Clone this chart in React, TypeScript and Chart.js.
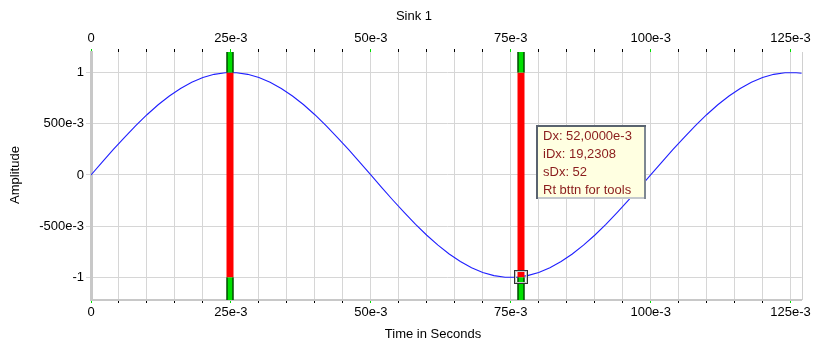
import React, { useEffect, useRef } from "react";
import { Chart, registerables } from "chart.js";

Chart.register(...registerables);

// ---- data ----
const timeMs = [
  0, 2, 4, 6, 8, 10, 12, 14, 16, 18, 20, 22, 24, 26, 28, 30, 32, 34, 36, 38,
  40, 42, 44, 46, 48, 50, 52, 54, 56, 58, 60, 62, 64, 66, 68, 70, 72, 74, 76,
  78, 80, 82, 84, 86, 88, 90, 92, 94, 96, 98, 100, 102, 104, 106, 108, 110,
  112, 114, 116, 118, 120, 122, 124, 126, 127,
];
const amplitude = [
  0, 0.125, 0.249, 0.368, 0.482, 0.588, 0.685, 0.771, 0.844, 0.905, 0.951,
  0.982, 0.998, 0.998, 0.982, 0.951, 0.905, 0.844, 0.771, 0.685, 0.588, 0.482,
  0.368, 0.249, 0.125, 0, -0.125, -0.249, -0.368, -0.482, -0.588, -0.685,
  -0.771, -0.844, -0.905, -0.951, -0.982, -0.998, -0.998, -0.982, -0.951,
  -0.905, -0.844, -0.771, -0.685, -0.588, -0.482, -0.368, -0.249, -0.125, 0,
  0.125, 0.249, 0.368, 0.482, 0.588, 0.685, 0.771, 0.844, 0.905, 0.951, 0.982,
  0.998, 0.998, 0.992,
];
const xMajorMs = [0, 25, 50, 75, 100, 125];
const xMajorLabels = ["0", "25e-3", "50e-3", "75e-3", "100e-3", "125e-3"];
const yTickValues = [-1, -0.5, 0, 0.5, 1];
const yTickLabels = ["-1", "-500e-3", "0", "500e-3", "1"];
const cursorMs = [24.9, 76.9];
const markerAmplitude = -0.994;
const readoutLines = ["Dx: 52,0000e-3", "iDx: 19,2308", "sDx: 52", "Rt bttn for tools"];
const chartTitle = "Sink 1";
const xTitle = "Time in Seconds";
const yTitle = "Amplitude";

const FONT = "'Liberation Sans', Arial, sans-serif";

const xLabel = (v: number) => {
  const ms = Math.round(v * 1000);
  const i = xMajorMs.indexOf(ms);
  return i >= 0 && Math.abs(v * 1000 - ms) < 1e-6 ? xMajorLabels[i] : "";
};
const isMajor = (v: number) => xLabel(v) !== "";

const overlay = {
  id: "overlay",
  afterDraw(chart: any) {
    const ctx = chart.ctx as CanvasRenderingContext2D;
    const ca = chart.chartArea;
    const xs = chart.scales.x;
    const ys = chart.scales.y;
    ctx.save();

    // right border
    ctx.strokeStyle = "#d0d0d0";
    ctx.lineWidth = 1;
    ctx.beginPath();
    ctx.moveTo(Math.round(ca.right) + 0.5, ca.top);
    ctx.lineTo(Math.round(ca.right) + 0.5, ca.bottom);
    ctx.stroke();

    // cursors
    const yHi = ys.getPixelForValue(1);
    const yLo = ys.getPixelForValue(-1);
    cursorMs.forEach((ms) => {
      const px = Math.round(xs.getPixelForValue(ms / 1000));
      const l = px - 3.5;
      const w = 7;
      ctx.fillStyle = "#ff0000";
      ctx.fillRect(l, yHi, w, yLo - yHi);
      ctx.fillStyle = "#00e000";
      ctx.fillRect(l, ca.top, w, yHi - ca.top);
      ctx.fillRect(l, yLo, w, ca.bottom - yLo);
      ctx.strokeStyle = "#000";
      ctx.lineWidth = 1;
      ctx.beginPath();
      ctx.moveTo(l + 0.5, ca.top);
      ctx.lineTo(l + 0.5, yHi);
      ctx.moveTo(l + w - 0.5, ca.top);
      ctx.lineTo(l + w - 0.5, yHi);
      ctx.moveTo(l + 0.5, yLo);
      ctx.lineTo(l + 0.5, ca.bottom);
      ctx.moveTo(l + w - 0.5, yLo);
      ctx.lineTo(l + w - 0.5, ca.bottom);
      ctx.stroke();
    });

    // marker square at second cursor
    const mx = Math.round(xs.getPixelForValue(cursorMs[1] / 1000));
    const my = Math.round(ys.getPixelForValue(markerAmplitude));
    ctx.strokeStyle = "#303030";
    ctx.lineWidth = 1;
    ctx.strokeRect(mx - 6.5, my - 6.5, 13, 13);
    ctx.strokeStyle = "#c8c8c8";
    ctx.strokeRect(mx - 5.5, my - 5.5, 11, 11);

    // readout box
    const bx = mx + 15;
    const by = ca.top + 73;
    const bw = 110;
    const bh = 74;
    ctx.fillStyle = "#ffffe1";
    ctx.fillRect(bx, by, bw, bh);
    ctx.fillStyle = "#c4c8cc";
    ctx.fillRect(bx, by + bh - 2, bw, 2);
    ctx.fillStyle = "#7e8892";
    ctx.fillRect(bx + bw - 2, by, 2, bh);
    ctx.fillStyle = "#59636f";
    ctx.fillRect(bx, by, bw, 2);
    ctx.fillRect(bx, by, 2, bh);
    ctx.fillStyle = "#8a1c1c";
    ctx.font = `13px ${FONT}`;
    ctx.textAlign = "left";
    ctx.textBaseline = "middle";
    readoutLines.forEach((t, i) => {
      ctx.fillText(t, bx + 7, by + 11.5 + i * 18);
    });

    // titles
    ctx.fillStyle = "#000";
    ctx.font = `13px ${FONT}`;
    ctx.textAlign = "center";
    ctx.textBaseline = "middle";
    ctx.fillText(chartTitle, 414, 16);
    ctx.fillText(xTitle, 433, 334);
    ctx.save();
    ctx.translate(15, 175);
    ctx.rotate(-Math.PI / 2);
    ctx.fillText(yTitle, 0, 0);
    ctx.restore();

    ctx.restore();
  },
};

export default function App() {
  const ref = useRef<HTMLCanvasElement | null>(null);
  useEffect(() => {
    if (!ref.current) return;
    const gridColor = "#d6d6d6";
    const chart = new Chart(ref.current, {
      type: "line",
      data: {
        datasets: [
          {
            data: timeMs.map((t, i) => ({ x: t / 1000, y: amplitude[i] })),
            borderColor: "#2020ff",
            borderWidth: 1.1,
            pointRadius: 0,
            tension: 0,
            fill: false,
          },
        ],
      },
      options: {
        animation: false,
        responsive: false,
        devicePixelRatio: 1,
        layout: { padding: { left: 0, right: 12, top: 0, bottom: 0 } },
        plugins: {
          legend: { display: false },
          tooltip: { enabled: false },
          title: { display: false },
        },
        scales: {
          x: {
            type: "linear",
            position: "bottom",
            min: 0,
            max: 0.127,
            afterFit: (s: any) => {
              s.height = 45;
            },
            ticks: {
              stepSize: 0.005,
              includeBounds: false,
              autoSkip: false,
              maxRotation: 0,
              minRotation: 0,
              padding: 2,
              color: "#000",
              font: { family: FONT, size: 13 },
              callback: (v: any) => xLabel(Number(v)),
            },
            grid: {
              color: gridColor,
              lineWidth: 1,
              tickLength: 3,
              tickColor: (c: any) => (c.tick && isMajor(c.tick.value) ? "#00e000" : "#000"),
            },
            border: { display: true, color: "#c8c8c8", width: 2 },
          },
          x2: {
            type: "linear",
            position: "top",
            min: 0,
            max: 0.127,
            afterFit: (s: any) => {
              s.height = 52;
            },
            ticks: {
              stepSize: 0.005,
              includeBounds: false,
              autoSkip: false,
              maxRotation: 0,
              minRotation: 0,
              padding: 3,
              color: "#000",
              font: { family: FONT, size: 13 },
              callback: (v: any) => xLabel(Number(v)),
            },
            grid: {
              drawOnChartArea: false,
              tickLength: 3,
              tickColor: (c: any) => (c.tick && isMajor(c.tick.value) ? "#00e000" : "#000"),
            },
            border: { display: false },
          },
          y: {
            type: "linear",
            position: "left",
            min: -1.22,
            max: 1.2,
            afterFit: (s: any) => {
              s.width = 91;
            },
            ticks: {
              stepSize: 0.5,
              includeBounds: false,
              padding: 2,
              color: "#000",
              font: { family: FONT, size: 13 },
              callback: (v: any) => {
                const i = yTickValues.findIndex((t) => Math.abs(t - Number(v)) < 1e-6);
                return i >= 0 ? yTickLabels[i] : "";
              },
            },
            grid: {
              color: gridColor,
              lineWidth: 1,
              tickLength: 5,
              tickColor: gridColor,
            },
            border: { display: true, color: "#c8c8c8", width: 3 },
          },
        },
      } as any,
      plugins: [overlay],
    });
    return () => chart.destroy();
  }, []);

  return (
    <div style={{ position: "fixed", left: 0, top: 0, width: 814, height: 345, background: "#fff" }}>
      <canvas ref={ref} width={814} height={345} style={{ width: 814, height: 345 }} />
    </div>
  );
}
